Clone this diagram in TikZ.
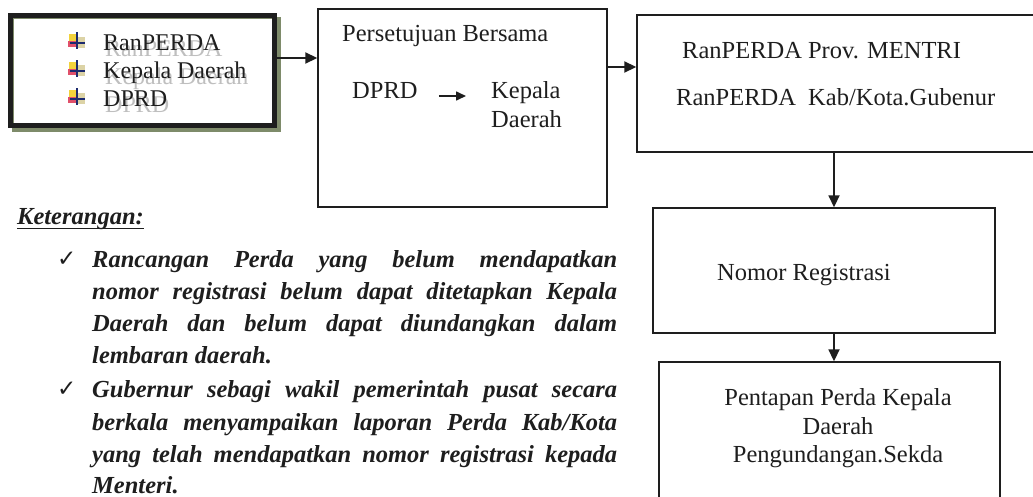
\documentclass[tikz,border=0pt]{standalone}
\usepackage{fontspec}
\setmainfont{Liberation Serif}
\newfontfamily\symfont{DejaVu Sans}
\usetikzlibrary{arrows.meta}
\definecolor{ink}{HTML}{1E1E1E}
\definecolor{olivegray}{HTML}{7E8B6A}
\definecolor{icnavy}{HTML}{1C2A6E}
\definecolor{icyellow}{HTML}{F2D23C}
\definecolor{icred}{HTML}{E0506A}
\definecolor{icpale}{HTML}{DCD3A6}
\tikzset{
  box/.style={draw=ink, line width=1.4pt, rectangle, inner sep=0pt},
  arr/.style={draw=ink, line width=1.8pt, -{Triangle[length=12pt,width=11pt]}},
  txt/.style={inner sep=0pt, anchor=base west, text=ink, font=\fontsize{24.5}{29}\selectfont},
  ctxt/.style={txt, anchor=base},
  btxt/.style={txt, font=\fontsize{24}{28}\selectfont},
  shtxt/.style={btxt, text=black!25},
  bitxt/.style={txt, font=\fontsize{24.5}{32}\selectfont\bfseries\itshape},
  chk/.style={inner sep=0pt, anchor=base west, text=ink, font=\fontsize{23}{26}\selectfont\symfont},
}
\newcommand\jl[1]{\hbox to 525pt{\spaceskip=0.25em plus 1fil\relax #1}}
\newcommand\bicon[1]{%
  \begin{scope}[shift={(68,#1)}]
    \fill[icyellow] (1,2) rectangle (8,9);
    \fill[icred] (0,9) rectangle (8,15);
    \fill[icpale] (9,5) rectangle (17,16);
    \fill[icnavy] (7.5,0) rectangle (9.5,17);
    \fill[icnavy] (2,10) rectangle (17,12);
  \end{scope}}
\begin{document}
\begin{tikzpicture}[x=1pt,y=-1pt]
\useasboundingbox (0,0) rectangle (1033,496);
\clip (0,0) rectangle (1033,496);
\fill[white] (0,0) rectangle (1033,496);

% ---- box 1 (thick, shadowed)
\fill[olivegray] (12,17) rectangle (281,132);
\node[box, line width=5pt, fill=white, minimum width=264pt, minimum height=110pt] (b1) at (142.5,70.5) {};
\draw[olivegray, line width=1pt] (13.8,123) -- (13.8,18.8) -- (272,18.8);
\bicon{32}
\bicon{60}
\bicon{88}
\node[shtxt] (s1) at (105,56) {RanPERDA};
\node[shtxt] (s2) at (105,84) {Kepala Daerah};
\node[shtxt] (s3) at (105,112) {DPRD};
\node[btxt] (t1) at (103,50) {RanPERDA};
\node[btxt] (t2) at (103,78) {Kepala Daerah};
\node[btxt] (t3) at (103,106) {DPRD};

% ---- box 2
\node[box, minimum width=289pt, minimum height=198pt] (b2) at (462.5,108) {};
\node[txt] (pb) at (342,41) {Persetujuan Bersama};
\node[txt] (dprd) at (352,98) {DPRD};
\node[txt] (kep) at (491,98) {Kepala};
\node[txt] (dae) at (491,127) {Daerah};
\coordinate (r3) at (0,96);
\draw[arr, line width=1.6pt, -{Triangle[length=10pt,width=9pt]}] ([xshift=21pt]dprd.east |- r3) -- ([xshift=-25pt]kep.west |- r3);

% ---- box 3
\node[box, minimum width=403pt, minimum height=137pt] (b3) at (838.5,83.5) {};
\node[txt] (p3a) at (682,58) {RanPERDA Prov. MENTRI};
\node[txt] (p3b) at (676,105) {RanPERDA\ \ Kab/Kota.Gubenur};

% ---- box 4
\node[box, minimum width=342pt, minimum height=125pt] (b4) at (824,270.5) {};
\node[txt] (nr) at (717,280) {Nomor Registrasi};

% ---- box 5
\node[box, minimum width=341pt, minimum height=158pt] (b5) at (829.5,441) {};
\node[ctxt] (p5a) at (838,405) {Pentapan Perda Kepala};
\node[ctxt] (p5b) at (838,434) {Daerah};
\node[ctxt] (p5c) at (838,462) {Pengundangan.Sekda};

% ---- connectors
\coordinate (r1) at (0,58);
\coordinate (r2) at (0,67);
\coordinate (c1) at (834,0);
\draw[arr] (b1.east |- r1) -- (b2.west |- r1);
\draw[arr] (b2.east |- r2) -- (b3.west |- r2);
\draw[arr] (b3.south -| c1) -- (b4.north -| c1);
\draw[arr] (b4.south -| c1) -- (b5.north -| c1);

% ---- Keterangan
\node[bitxt] (ket) at (17,224) {Keterangan:};
\draw[ink, line width=1.8pt] ([yshift=-4.5pt]ket.base west) -- ([yshift=-4.5pt]ket.base east);

\node[chk] (ck1) at (57,266) {✓};
\node[bitxt] (l1) at (92,267) {\jl{Rancangan Perda yang belum mendapatkan}};
\node[bitxt] (l2) at (92,299.2) {\jl{nomor registrasi belum dapat ditetapkan Kepala}};
\node[bitxt] (l3) at (92,331.4) {\jl{Daerah dan belum dapat diundangkan dalam}};
\node[bitxt] (l4) at (92,363.6) {lembaran daerah.};
\node[chk] (ck2) at (57,396.8) {✓};
\node[bitxt] (l5) at (92,397.8) {\jl{Gubernur sebagi wakil pemerintah pusat secara}};
\node[bitxt] (l6) at (92,430) {\jl{berkala menyampaikan laporan Perda Kab/Kota}};
\node[bitxt] (l7) at (92,462.2) {\jl{yang telah mendapatkan nomor registrasi kepada}};
\node[bitxt] (l8) at (92,493.4) {Menteri.};
\end{tikzpicture}
\end{document}
